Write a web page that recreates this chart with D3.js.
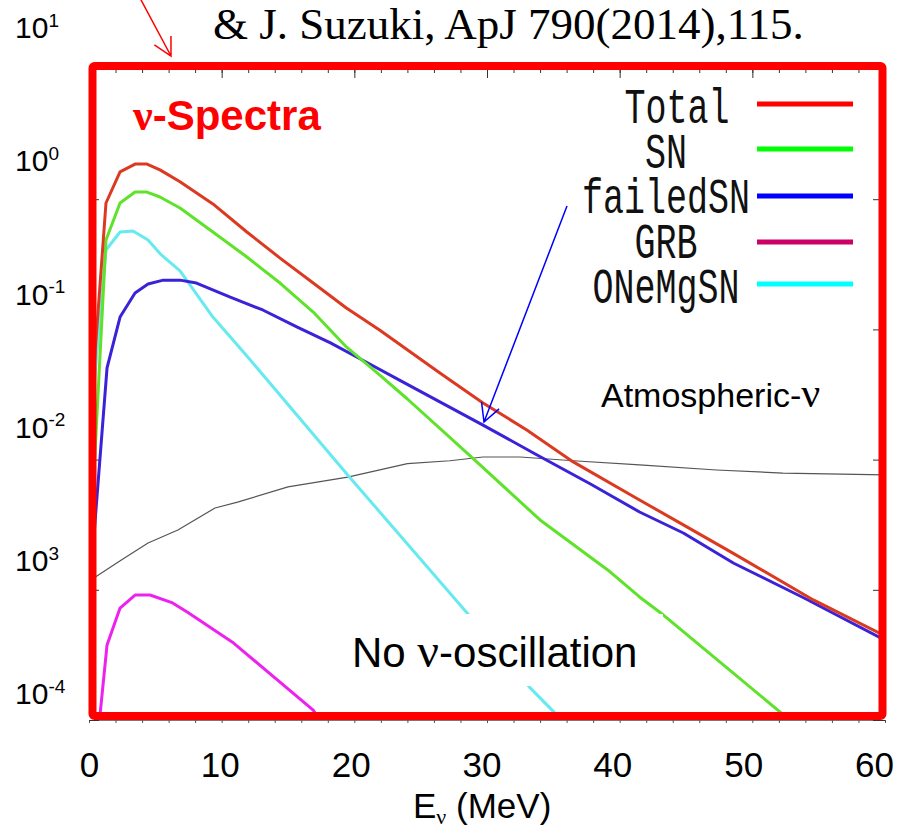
<!DOCTYPE html>
<html>
<head>
<meta charset="utf-8">
<script src="https://cdn.jsdelivr.net/npm/d3@7"></script>
<style>
  body { margin: 0; background: #fff; }
  svg { display: block; }
</style>
</head>
<body>
<svg id="chart"></svg>
<script>
// Valeurs (flux, échelle log)
const totalE    = [0.27, 1.28, 2.34, 3.47, 4.37, 5.35, 6.86, 9.34, 11.9, 14.4, 16.9, 19.4, 21.9, 26.45, 29.7, 33.0, 36.5, 41.5, 44.8, 48.5, 54.6, 60];
const totalFlux = [0.0361, 0.935, 1.62, 1.86, 1.86, 1.68, 1.36, 0.92, 0.56, 0.353, 0.227, 0.146, 0.0988, 0.0462, 0.0272, 0.0169, 0.0096, 0.0049, 0.00315, 0.00192, 0.000836, 0.000442];

const snE    = [0.27, 1.28, 2.34, 3.47, 4.37, 5.35, 6.86, 9.34, 11.9, 14.4, 16.9, 19.4, 21.9, 24.0, 28.9, 34.0, 39.1, 41.5, 43.3, 52.1, 53.0];
const snFlux = [0.0049, 0.486, 0.935, 1.135, 1.135, 1.04, 0.855, 0.56, 0.36, 0.227, 0.136, 0.0733, 0.0447, 0.0292, 0.0103, 0.00344, 0.00142, 0.000881, 0.00064, 0.000115, 0.0000931];

const failedE    = [0.3, 1.36, 2.34, 3.47, 4.45, 5.6, 6.86, 8.1, 10.6, 13.1, 15.7, 18.2, 20.6, 23.4, 29.7, 33.5, 37.8, 41.5, 44.8, 48.6, 53.9, 60];
const failedFlux = [0.00209, 0.0506, 0.1245, 0.1905, 0.223, 0.239, 0.239, 0.227, 0.1775, 0.141, 0.1042, 0.0787, 0.0582, 0.0408, 0.0184, 0.01125, 0.0065, 0.00396, 0.00273, 0.0016, 0.000865, 0.000411];

const grbE    = [0.6, 1.36, 2.34, 3.47, 4.6, 6.3, 7.4, 10.9, 16.9, 17.6];
const grbFlux = [0.000064, 0.000377, 0.000724, 0.000912, 0.000912, 0.000793, 0.000675, 0.00039, 0.000119, 0.0000931];

const onemgE    = [0.27, 1.28, 2.34, 3.32, 4.45, 5.43, 6.86, 9.34, 11.9, 19.5, 28.5, 33.2, 35.2, 36.0];
const onemgFlux = [0.0277, 0.407, 0.56, 0.57, 0.486, 0.375, 0.282, 0.1245, 0.0625, 0.00762, 0.000664, 0.000179, 0.000111, 0.000088];

const atmE    = [0.2, 0.45, 2.41, 4.45, 6.7, 9.5, 11.2, 15.0, 19.5, 24.0, 27.2, 29.7, 32.5, 36.5, 41.5, 47.3, 52.3, 60];
const atmFlux = [0.00123, 0.00125, 0.00169, 0.00229, 0.00288, 0.00425, 0.00472, 0.00617, 0.00734, 0.0093, 0.0098, 0.01047, 0.01047, 0.0098, 0.0091, 0.00832, 0.00788, 0.00762];

const legendNames = ["Total", "SN", "failedSN", "GRB", "ONeMgSN"];
const xTickValues = [0, 10, 20, 30, 40, 50, 60];
const yLabelValues = [10, 1, 0.1, 0.01, 0.001, 0.0001];
const yLabelExp = ["1", "0", "-1", "-2", "3", "-4"];   // comme sur l'image

const width = 898, height = 827;
const svg = d3.select("#chart").attr("width", width).attr("height", height);
svg.append("rect").attr("width", width).attr("height", height).attr("fill", "#fff");

const x = d3.scaleLinear().domain([0, 60]).range([89, 885]);
const y = d3.scaleLog().domain([1e-4, 10]).range([720, 69]);
// les étiquettes des axes sont posées par-dessus la figure, un peu décalées
const xLab = d3.scaleLinear().domain([0, 60]).range([89, 874]);
const yLab = d3.scaleLog().domain([1e-4, 10]).range([694, 28]);

const sans = "'Liberation Sans', Arial, sans-serif";
const serif = "'Liberation Serif', 'Times New Roman', serif";

// graduations internes
function styleTicks(g) {
  g.select(".domain").remove();
  g.selectAll(".tick line").attr("stroke", "#333").attr("stroke-width", 1);
  g.selectAll(".tick text").remove();
}
const minorX = d3.range(0, 61, 2);
const minorY = [];
for (let e = -4; e < 1; e++) for (let k = 2; k < 10; k++) minorY.push(k * Math.pow(10, e));

svg.append("g").attr("transform", "translate(0,69)")
  .call(d3.axisBottom(x).tickValues(minorX).tickSize(4)).call(styleTicks);
svg.append("g").attr("transform", "translate(0,69)")
  .call(d3.axisBottom(x).tickValues(xTickValues).tickSize(9)).call(styleTicks);
svg.append("g").attr("transform", "translate(0,720)")
  .call(d3.axisBottom(x).tickValues(minorX).tickSize(3))
  .call(g => { g.select(".domain").attr("stroke", "#777"); g.selectAll(".tick line").attr("stroke", "#555"); g.selectAll(".tick text").remove(); });
svg.append("g").attr("transform", "translate(89,0)")
  .call(d3.axisRight(y).tickValues(yLabelValues).tickSize(10)).call(styleTicks);
svg.append("g").attr("transform", "translate(885,0)")
  .call(d3.axisLeft(y).tickValues(yLabelValues).tickSize(12)).call(styleTicks);
svg.append("g").attr("transform", "translate(885,0)")
  .call(d3.axisLeft(y).tickValues(minorY).tickSize(6)).call(styleTicks);

// courbes
svg.append("clipPath").attr("id", "plot-clip")
  .append("rect").attr("x", 89).attr("y", 69).attr("width", 796).attr("height", 651);

const line = d3.line().x(d => x(d[0])).y(d => y(d[1]));
const series = [
  { e: atmE, f: atmFlux, color: "#555555", w: 1.2 },
  { e: grbE, f: grbFlux, color: "#ee22ee", w: 3 },
  { e: onemgE, f: onemgFlux, color: "#66eaf0", w: 3 },
  { e: failedE, f: failedFlux, color: "#3a22d8", w: 3 },
  { e: snE, f: snFlux, color: "#5ee22a", w: 3 },
  { e: totalE, f: totalFlux, color: "#dc3a20", w: 3 }
];
const plot = svg.append("g").attr("clip-path", "url(#plot-clip)");
plot.selectAll("path")
  .data(series)
  .join("path")
  .attr("d", s => line(s.e.map((v, i) => [v, s.f[i]])))
  .attr("fill", "none")
  .attr("stroke", s => s.color)
  .attr("stroke-width", s => s.w)
  .attr("stroke-linejoin", "round");

// légende
const legendColors = ["#ff0000", "#00ff00", "#0000ff", "#cc0066", "#00ffff"];
const legendTextY = [123, 168, 213, 258, 303];
const legendLineY = [104, 149, 196, 242, 284];
const legendShift = [11, 0, 0, 0, 0];
const legend = svg.append("g");
legendNames.forEach((name, i) => {
  legend.append("text")
    .attr("transform", `translate(${666 + legendShift[i]},${legendTextY[i]}) scale(1,1.43)`)
    .attr("text-anchor", "middle")
    .attr("font-family", "'Liberation Mono', 'DejaVu Sans Mono', monospace")
    .attr("font-size", 35)
    .attr("fill", "#111")
    .text(name);
  legend.append("line")
    .attr("x1", 757).attr("x2", 853)
    .attr("y1", legendLineY[i]).attr("y2", legendLineY[i])
    .attr("stroke", legendColors[i]).attr("stroke-width", 5);
});

// boîte blanche + texte "No ν-oscillation"
svg.append("rect").attr("x", 340).attr("y", 614).attr("width", 323).attr("height", 72).attr("fill", "#fff");
const noOsc = svg.append("text").attr("x", 352).attr("y", 667)
  .attr("font-family", sans).attr("font-size", 42).attr("fill", "#000");
noOsc.append("tspan").text("No ");
noOsc.append("tspan").attr("font-family", serif).attr("font-size", 48).text("ν");
noOsc.append("tspan").text("-oscillation");

const atm = svg.append("text").attr("x", 601).attr("y", 407)
  .attr("font-family", sans).attr("font-size", 34).attr("fill", "#000");
atm.append("tspan").text("Atmospheric-");
atm.append("tspan").attr("font-family", serif).attr("font-size", 42).text("ν");

// cadre rouge
svg.append("rect")
  .attr("x", 92.5).attr("y", 66).attr("width", 790).attr("height", 650)
  .attr("fill", "none").attr("stroke", "#ff0000").attr("stroke-width", 8)
  .attr("rx", 2);

// titre
const title = svg.append("text").attr("x", 133).attr("y", 130)
  .attr("font-family", sans).attr("font-weight", "bold").attr("font-size", 42).attr("fill", "#ff0000");
title.append("tspan").attr("font-family", serif).attr("font-size", 44).text("ν");
title.append("tspan").text("-Spectra");

// référence
svg.append("text").attr("x", 213).attr("y", 39)
  .attr("font-family", serif).attr("font-size", 45).attr("fill", "#000")
  .text("& J. Suzuki, ApJ 790(2014),115.");

// étiquettes x
svg.append("g").attr("transform", "translate(0,752)")
  .call(d3.axisBottom(xLab).tickValues(xTickValues).tickSize(0).tickPadding(0).tickFormat(d3.format("d")))
  .call(g => g.select(".domain").remove())
  .call(g => g.selectAll("text").attr("font-family", sans).attr("font-size", 35).attr("fill", "#000"));

// étiquettes y (10^n)
svg.append("g").attr("transform", "translate(15,0)")
  .call(d3.axisRight(yLab).tickValues(yLabelValues).tickSize(0).tickPadding(0).tickFormat(() => ""))
  .call(g => g.select(".domain").remove())
  .call(g => g.selectAll(".tick text").each(function(d) {
    const t = d3.select(this).attr("font-family", sans).attr("font-size", 30).attr("fill", "#000")
      .attr("text-anchor", "start").attr("x", 0);
    t.append("tspan").text("10");
    t.append("tspan").attr("font-size", 19).attr("dy", "-0.6em").text(yLabelExp[yLabelValues.indexOf(d)]);
  }));

// titre de l'axe x
const xt = svg.append("text").attr("x", 413).attr("y", 818)
  .attr("font-family", sans).attr("font-size", 35).attr("fill", "#000");
xt.append("tspan").text("E");
xt.append("tspan").attr("font-family", serif).attr("font-size", 22).attr("dy", 6).text("ν");
xt.append("tspan").attr("dy", -6).text(" (MeV)");

// flèches
function arrow(x1, y1, x2, y2, color) {
  const a = Math.atan2(y1 - y2, x1 - x2), len = 20, spread = 28 * Math.PI / 180;
  const p1 = [x2 + len * Math.cos(a - spread), y2 + len * Math.sin(a - spread)];
  const p2 = [x2 + len * Math.cos(a + spread), y2 + len * Math.sin(a + spread)];
  svg.append("path")
    .attr("d", `M${x1},${y1}L${x2},${y2}M${p1[0]},${p1[1]}L${x2},${y2}L${p2[0]},${p2[1]}`)
    .attr("fill", "none").attr("stroke", color).attr("stroke-width", 1.5);
}
arrow(140, -2, 171, 56, "#ff0000");
arrow(567, 206, 484, 422, "#0000ff");
</script>
</body>
</html>
